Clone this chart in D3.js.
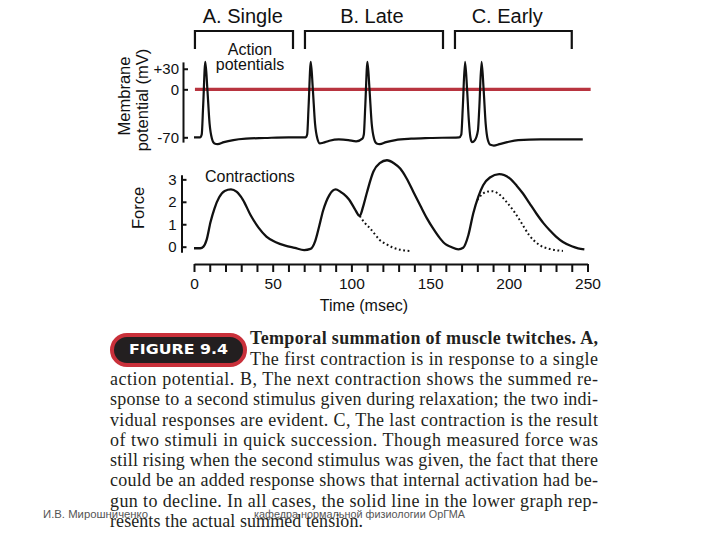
<!DOCTYPE html>
<html><head><meta charset="utf-8">
<script src="https://cdn.jsdelivr.net/npm/d3@7"></script>
<style>html,body{margin:0;padding:0;background:#fff;} svg{display:block}</style>
</head><body>
<svg id="c" width="720" height="540"></svg>
<script>
// ---------- data ----------
const panelTitles = ["A. Single", "B. Late", "C. Early"];
const panelStart = [0.6, 70.5, 165.8];     // msec
const panelEnd = [62.9, 158.2, 240];       // msec
const panelTitleT = [31, 113, 199];        // msec (title centre)

const timeTicks = [0,10,20,30,40,50,60,70,80,90,100,110,120,130,140,150,160,170,180,190,200,210,220,230,240,250];
const timeLabels = [0, 50, 100, 150, 200, 250];
const mvTicks = [30, 0, -70];
const mvTickLabels = ["+30", "0", "-70"];
const forceTicks = [0, 1, 2, 3];
const zeroLineT = [0.6, 252];

// membrane potential trace (msec, mV)
const apT = [0,4,4.9,5.8,7.2,8.5,9.9,11.4,13,15,19,25,33,45,60,71,71.9,72.8,74.2,75.5,76.9,78.4,80,82,86,92,98,103,107,107.9,108.8,110.2,111.5,112.9,114.4,116,118,122,128,138,150,168.5,169.8,170.8,172.2,173.5,174.6,175.6,176.6,178.5,180.4,181.3,182.7,184.0,185.3,186.7,188.3,190.5,194,199,206,220,247];
const apV = [-70,-70,-66,-25,40,0,-50,-72,-79,-80,-77,-74,-72,-71,-70,-70,-66,-25,40,0,-50,-72,-79,-78,-75,-73,-74,-76,-72,-66,-25,40,0,-50,-72,-79,-80,-77,-74,-72,-71,-70,-66,-25,40,0,-45,-70,-77,-74,-60,-25,40,0,-50,-74,-81,-82,-80,-77,-74,-73,-73];

// measured (summed) force, solid line
const forceT = [0,4,6,8,10.5,13,16,19.5,23.5,27,31,36,41,46,52,58,64,70,74,77,79.5,82,86,90,93,95,98.5,102,105.3,107.5,110,114,118,122.6,127,131,135,139.4,144,148,152,156.3,160,163,168,171,174.3,177.4,180.6,183.7,188,193.9,200.6,205,209,213,217.5,222,226,230,234.4,240,244,248];
const forceV = [-0.07,-0.07,0.0,0.3,1.1,1.7,2.2,2.48,2.55,2.45,2.1,1.4,0.85,0.45,0.2,0.05,-0.05,-0.15,-0.1,0.25,0.9,1.6,2.3,2.55,2.45,2.35,2.1,1.7,1.37,1.8,2.45,3.35,3.72,3.85,3.72,3.48,3.05,2.44,1.8,1.26,0.8,0.37,0.1,0.0,-0.12,-0.05,0.51,1.48,2.22,2.74,3.08,3.23,3.04,2.72,2.37,1.95,1.48,1.05,0.73,0.45,0.21,0.02,-0.07,-0.12];

// individual twitch continuations (dotted)
const dotBT = [105.3,108,112,115,118,122,126.8,132,138.4];
const dotBV = [1.37,1.1,0.81,0.55,0.3,0.12,-0.05,-0.15,-0.2];
const dotCT = [180,183,186,189.4,193,198.5,203,207,213,219.6,226,234.4];
const dotCV = [2.08,2.33,2.45,2.47,2.38,2.0,1.6,1.18,0.51,0.07,-0.1,-0.19];

const captionLines = [
  "Temporal summation of muscle twitches. A,",
  "The first contraction is in response to a single",
  "action potential. B, The next contraction shows the summed re-",
  "sponse to a second stimulus given during relaxation; the two indi-",
  "vidual responses are evident. C, The last contraction is the result",
  "of two stimuli in quick succession. Though measured force was",
  "still rising when the second stimulus was given, the fact that there",
  "could be an added response shows that internal activation had be-",
  "gun to decline. In all cases, the solid line in the lower graph rep-",
  "resents the actual summed tension."
];
const badgeText = "FIGURE 9.4";
const footerAuthor = "И.В. Мирошниченко";
const footerDept = "кафедра нормальной физиологии ОрГМА";

// ---------- drawing ----------
const sans = "'Liberation Sans', Arial, Helvetica, sans-serif";
const serif = "'Liberation Serif', 'Times New Roman', serif";
const svg = d3.select("#c");
svg.append("rect").attr("width", 720).attr("height", 540).attr("fill", "#fff");

const x = d3.scaleLinear().domain([0, 250]).range([194, 587.5]);
const yMv = d3.scaleLinear().domain([-77, 40]).range([142.1, 61.9]);
const yF = d3.scaleLinear().domain([-0.25, 3.2]).range([252.3, 174.86]);

// panel titles and brackets
svg.append("g").selectAll("text").data(panelTitles).join("text")
  .attr("x", (d, i) => x(panelTitleT[i])).attr("y", 22.5)
  .attr("text-anchor", "middle").attr("font-family", sans).attr("font-size", 20)
  .attr("fill", "#111").text(d => d);
svg.append("g").selectAll("path").data(panelTitles).join("path")
  .attr("d", (d, i) => `M${x(panelStart[i])},49V31H${x(panelEnd[i])}V49`)
  .attr("fill", "none").attr("stroke", "#111").attr("stroke-width", 2.2);

// "Action potentials"
const ap = svg.append("text").attr("font-family", sans).attr("font-size", 16)
  .attr("text-anchor", "middle").attr("fill", "#111");
ap.append("tspan").attr("x", 250).attr("y", 55).text("Action");
ap.append("tspan").attr("x", 250).attr("y", 70).text("potentials");

// mV axis
const gMv = svg.append("g").attr("transform", "translate(183,0)")
  .call(d3.axisLeft(yMv).tickValues(mvTicks).tickSize(-5).tickSizeOuter(0).tickPadding(4)
    .tickFormat((d, i) => mvTickLabels[i]));
gMv.select(".domain").attr("stroke", "#111").attr("stroke-width", 2);
gMv.selectAll(".tick line").attr("stroke", "#111").attr("stroke-width", 2);
gMv.selectAll(".tick text").attr("font-family", sans).attr("font-size", 15).attr("fill", "#111");

// membrane potential axis title
svg.append("text").attr("transform", "translate(130,96) rotate(-90)")
  .attr("text-anchor", "middle").attr("font-family", sans).attr("font-size", 16.5)
  .attr("fill", "#111").text("Membrane");
svg.append("text").attr("transform", "translate(148,100) rotate(-90)")
  .attr("text-anchor", "middle").attr("font-family", sans).attr("font-size", 16.5)
  .attr("fill", "#111").text("potential (mV)");

// zero line
svg.append("line").attr("x1", x(zeroLineT[0])).attr("x2", x(zeroLineT[1]))
  .attr("y1", yMv(0)).attr("y2", yMv(0)).attr("stroke", "#b8343f").attr("stroke-width", 3.3);

// action potential trace
const apLine = d3.line().x(d => x(d[0])).y(d => yMv(d[1])).curve(d3.curveMonotoneX);
svg.append("path").datum(apT.map((t, i) => [t, apV[i]])).attr("d", apLine)
  .attr("fill", "none").attr("stroke", "#111").attr("stroke-width", 2.2).attr("stroke-linejoin", "round");

// force axis
const gF = svg.append("g").attr("transform", "translate(181.5,0)")
  .call(d3.axisLeft(yF).tickValues(forceTicks).tickSize(-5).tickSizeOuter(0).tickPadding(5)
    .tickFormat(d3.format("d")));
gF.select(".domain").attr("stroke", "#111").attr("stroke-width", 2);
gF.selectAll(".tick line").attr("stroke", "#111").attr("stroke-width", 2);
gF.selectAll(".tick text").attr("font-family", sans).attr("font-size", 15).attr("fill", "#111");
svg.append("text").attr("transform", "translate(144,208) rotate(-90)")
  .attr("text-anchor", "middle").attr("font-family", sans).attr("font-size", 16.5)
  .attr("fill", "#111").text("Force");
svg.append("text").attr("x", 205).attr("y", 182).attr("font-family", sans)
  .attr("font-size", 16).attr("fill", "#111").text("Contractions");

// force traces
const fLine = d3.line().x(d => x(d[0])).y(d => yF(d[1])).curve(d3.curveMonotoneX);
svg.append("path").datum(forceT.map((t, i) => [t, forceV[i]])).attr("d", fLine)
  .attr("fill", "none").attr("stroke", "#111").attr("stroke-width", 2.3).attr("stroke-linejoin", "round");
[[dotBT, dotBV], [dotCT, dotCV]].forEach(([ts, vs]) => {
  svg.append("path").datum(ts.map((t, i) => [t, vs[i]])).attr("d", fLine)
    .attr("fill", "none").attr("stroke", "#111").attr("stroke-width", 2)
    .attr("stroke-dasharray", "1.8,2.6");
});

// time axis
const gT = svg.append("g").attr("transform", "translate(0,264)")
  .call(d3.axisBottom(x).tickValues(timeTicks).tickSize(8).tickSizeOuter(0).tickPadding(6)
    .tickFormat(d => timeLabels.includes(d) ? d : ""));
gT.select(".domain").attr("stroke", "#111").attr("stroke-width", 2.2);
gT.selectAll(".tick line").attr("stroke", "#111").attr("stroke-width", 2);
gT.selectAll(".tick text").attr("font-family", sans).attr("font-size", 15.5).attr("fill", "#111");
svg.append("text").attr("x", 364).attr("y", 311).attr("text-anchor", "middle")
  .attr("font-family", sans).attr("font-size", 16).attr("fill", "#111").text("Time (msec)");

// ---------- caption ----------
svg.append("rect").attr("x", 112).attr("y", 335).attr("width", 133).attr("height", 30)
  .attr("rx", 15).attr("fill", "#231f20").attr("stroke", "#c9303a").attr("stroke-width", 4);
svg.append("text").attr("x", 129).attr("y", 354).attr("font-family", "'DejaVu Sans', Arial, sans-serif")
  .attr("font-weight", 900).attr("font-size", 14).attr("fill", "#fff")
  .attr("textLength", 99).attr("lengthAdjust", "spacingAndGlyphs").text(badgeText);

const lineY0 = 344.3, lineStep = 20.3;
svg.append("g").selectAll("text").data(captionLines).join("text")
  .attr("x", (d, i) => i < 2 ? 250 : 110)
  .attr("y", (d, i) => lineY0 + i * lineStep)
  .attr("font-family", serif).attr("font-size", 18)
  .attr("font-weight", (d, i) => i === 0 ? "bold" : "normal")
  .attr("fill", "#231f20")
  .attr("textLength", (d, i) => i < 2 ? 348 : (i === captionLines.length - 1 ? 253 : 488))
  .attr("lengthAdjust", "spacing")
  .text(d => d);

// footer
svg.append("text").attr("x", 43).attr("y", 518).attr("font-family", sans).attr("font-size", 11)
  .attr("fill", "#555").attr("textLength", 105).attr("lengthAdjust", "spacingAndGlyphs").text(footerAuthor);
svg.append("text").attr("x", 254).attr("y", 518).attr("font-family", sans).attr("font-size", 11)
  .attr("fill", "#555").attr("textLength", 211).attr("lengthAdjust", "spacingAndGlyphs").text(footerDept);
</script>
</body></html>
